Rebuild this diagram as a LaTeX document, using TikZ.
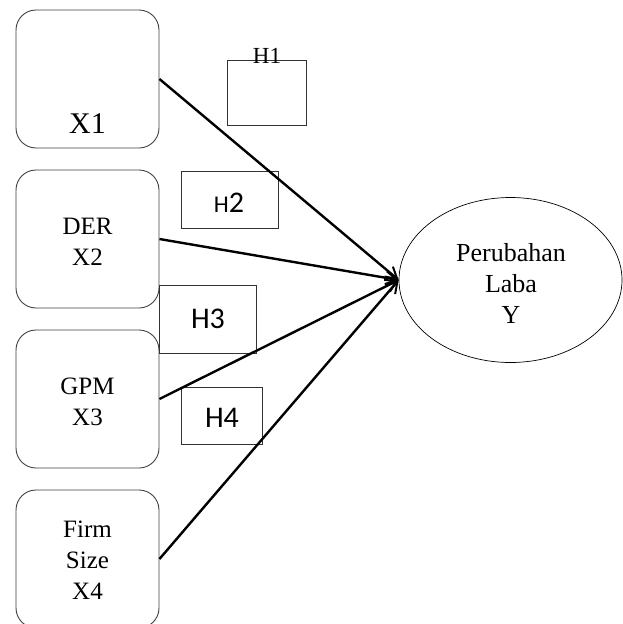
\documentclass[tikz,border=0pt]{standalone}
\usepackage{fontspec}
\setmainfont{Liberation Serif}
\newfontfamily\hsans{Carlito}
\usetikzlibrary{arrows.meta,shapes.geometric}
\begin{document}
\begin{tikzpicture}[x=1pt,y=-1pt,
  varbox/.style={draw=black!75,line width=0.9pt,rounded corners=20pt,minimum width=143pt,minimum height=138pt,inner sep=0pt},
  hbox/.style={draw=black!80,line width=0.8pt,inner sep=0pt},
  vtext/.style={align=center,font=\fontsize{25}{31}\selectfont,inner sep=0pt},
  htext/.style={font=\hsans\fontsize{30}{30}\selectfont,inner sep=0pt},
  arr/.style={line width=2.4pt,-{Straight Barb[length=11pt,width=13pt,line width=2pt]}}]
\useasboundingbox (0,0) rectangle (623,624);
\begin{scope}
\clip (0,0) rectangle (623,624);
% variable boxes
\node[varbox] (x1) at (87.5,79) {};
\node[varbox] (x2) at (87.5,239) {};
\node[varbox] (x3) at (87.5,399) {};
\node[varbox] (x4) at (87.5,559) {};
\node[vtext,font=\fontsize{30}{30}\selectfont] (t1) at (87.5,124) {X1};
\node[vtext] (t2) at (87.5,242) {DER\\X2};
\node[vtext] (t3) at (87.5,402) {GPM\\X3};
\node[vtext] (t4) at (87.5,560) {Firm\\Size\\X4};
% dependent
\node[draw,line width=0.7pt,ellipse,minimum width=223pt,minimum height=165pt,inner sep=0pt] (y) at (510.5,280) {};
\node[vtext,font=\fontsize{26}{31}\selectfont] (ty) at (511,283) {Perubahan\\Laba\\Y};
% hypothesis boxes
\node[hbox,minimum width=79pt,minimum height=65pt] (h1) at (266.5,92.5) {};
\node[inner sep=0pt,font=\fontsize{23}{23}\selectfont] (h1t) at (267,56) {H1};
\node[hbox,minimum width=97pt,minimum height=57pt] (h2) at (229.5,199.5) {};
\node[htext] (h2t) at (229,203) {{\fontsize{24}{24}\selectfont H}2};
\node[hbox,minimum width=97pt,minimum height=68pt] (h3) at (207.5,319) {};
\node[htext] (h3t) at (208,319) {H3};
\node[hbox,minimum width=81pt,minimum height=57pt] (h4) at (221.5,415.5) {};
\node[htext] (h4t) at (222,418) {H4};
% paths
\draw[arr] (x1.east) -- (y.west);
\draw[arr] (x2.east) -- (y.west);
\draw[arr] (x3.east) -- (y.west);
\draw[arr] (x4.east) -- (y.west);
\end{scope}
\end{tikzpicture}
\end{document}
